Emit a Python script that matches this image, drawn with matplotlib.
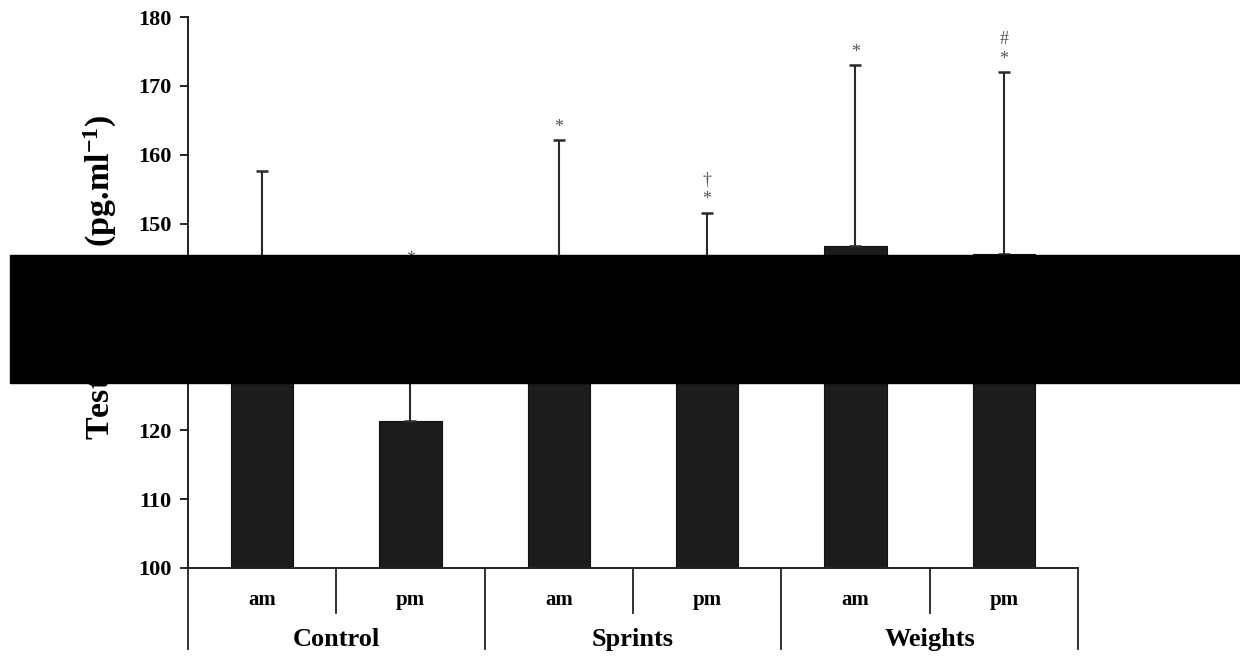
import matplotlib
matplotlib.use("Agg")
import matplotlib.pyplot as plt
from matplotlib.patches import Rectangle
import matplotlib.transforms as mtransforms

plt.rcParams['font.family'] = ['Liberation Serif', 'DejaVu Serif']
plt.rcParams['font.weight'] = 'bold'
plt.rcParams['mathtext.fontset'] = 'custom'
plt.rcParams['mathtext.rm'] = 'Liberation Serif:bold'
plt.rcParams['mathtext.default'] = 'rm'

# data (hidden bar tops estimated)
groups = ["Control", "Sprints", "Weights"]
times = ["am", "pm", "am", "pm", "am", "pm"]
means = [136.0, 121.4, 140.0, 137.0, 146.8, 145.6]
sds = [21.7, 21.5, 22.1, 14.6, 26.2, 26.4]
marks = ["", "*", "*", "\u2020\n*", "*", "#\n*"]

fig = plt.figure(figsize=(12.4, 6.57), dpi=100)
ax = fig.add_axes([0.1516, 0.1355, 0.7177, 0.8385])

x = list(range(len(means)))
ax.bar(x, means, width=0.42, bottom=0, color="#1c1c1c", edgecolor="#111111",
       linewidth=0.8, zorder=2)
ax.errorbar(x, means, yerr=[[0] * len(sds), sds], fmt="none", ecolor="#2a2a2a",
            elinewidth=1.5, capsize=4, capthick=1.8, zorder=3)

for xi, m, s, lab in zip(x, means, sds, marks):
    if lab:
        ax.annotate(lab, (xi, m + s), xytext=(0, 3), textcoords="offset points",
                    ha="center", va="bottom", fontsize=13, color="#555555",
                    fontweight="normal", linespacing=1.25)

ax.set_xlim(-0.5, 5.5)
ax.set_ylim(100, 180)
ax.set_yticks(range(100, 181, 10))
ax.tick_params(axis="y", labelsize=16, length=6, width=1.2, direction="out", pad=6)
ax.tick_params(axis="x", bottom=False, labelbottom=False)
for sp in ["top", "right"]:
    ax.spines[sp].set_visible(False)
for sp in ["left", "bottom"]:
    ax.spines[sp].set_linewidth(1.4)
    ax.spines[sp].set_color("#222222")

ax.set_ylabel("Testosterone (pg.ml$^{-1}$)", fontsize=24.5, fontweight="bold")
ax.yaxis.set_label_coords(-0.078, 0.527)

# two-level category axis below the bars
tr = mtransforms.blended_transform_factory(ax.transData, ax.transAxes)
for b in [0.5, 2.5, 4.5]:
    ax.plot([b, b], [0, -0.082], transform=tr, color="#222222", lw=1.3, clip_on=False)
for b in [-0.5, 1.5, 3.5, 5.5]:
    ax.plot([b, b], [0, -0.147], transform=tr, color="#222222", lw=1.3, clip_on=False)
for xi, t in zip(x, times):
    ax.text(xi, -0.058, t, transform=tr, ha="center", va="center", fontsize=15,
            fontweight="bold")
for i, g in enumerate(groups):
    ax.text(2 * i + 0.5, -0.13, g, transform=tr, ha="center", va="center",
            fontsize=19, fontweight="bold")

# black redaction band present in the reference
fig.patches.append(Rectangle((10 / 1240, 1 - 383 / 657), 1230 / 1240, 128 / 657,
                             transform=fig.transFigure, color="black", zorder=10))

fig.savefig("out.png", dpi=100)
